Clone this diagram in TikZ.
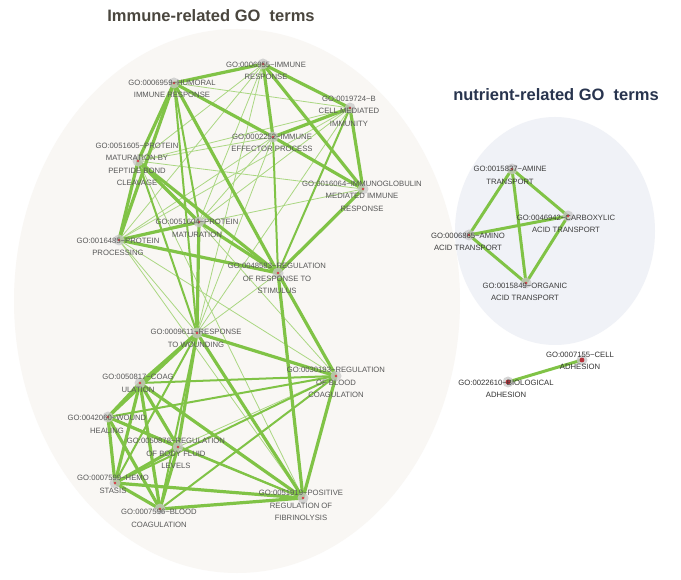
\documentclass[tikz,border=0pt]{standalone}
\usepackage{fontspec}
\setmainfont{Liberation Sans}
\definecolor{edgegreen}{RGB}{128,195,70}
\definecolor{thingreen}{RGB}{170,215,130}
\definecolor{immunebg}{RGB}{249,247,244}
\definecolor{nutrientbg}{RGB}{240,242,247}
\definecolor{lblgray}{RGB}{88,88,88}
\definecolor{lbldark}{RGB}{60,60,60}
\definecolor{titleimm}{RGB}{74,70,62}
\definecolor{titlenut}{RGB}{40,52,78}
\definecolor{dotred}{RGB}{215,60,70}
\tikzset{
  edgeT/.style={draw=edgegreen,line width=3.2pt},
  edgeM/.style={draw=edgegreen,line width=2pt},
  edgeS/.style={draw=thingreen,line width=0.8pt},
  dotn/.style={circle,fill=black!22,fill opacity=0.75,minimum size=11pt,inner sep=0pt},
  lbl/.style={font=\fontsize{7.7}{12.5}\selectfont,text=lblgray,align=center,inner sep=0pt},
  lbld/.style={lbl,text=lbldark},
  ttl/.style={font=\fontsize{16.5}{18}\selectfont\bfseries,inner sep=0pt}
}
\begin{document}
\begin{tikzpicture}[x=1pt,y=-1pt]
\useasboundingbox (0,0) rectangle (681,580);
\fill[white] (0,0) rectangle (681,580);
% background groups
\fill[immunebg] (237,301) ellipse (223 and 272);
\fill[nutrientbg] (555,231) ellipse (100 and 114);
% titles
\node[ttl,text=titleimm] (t1) at (211,16) {Immune-related GO\ \ terms};
\node[ttl,text=titlenut] (t2) at (556,95) {nutrient-related GO\ \ terms};
% positions
\coordinate (IR) at (263,64);
\coordinate (HU) at (174,83);
\coordinate (BC) at (350,108);
\coordinate (IE) at (273,137);
\coordinate (PMa) at (138,161);
\coordinate (IG) at (363,189);
\coordinate (PM) at (199,222);
\coordinate (PP) at (119,240);
\coordinate (RS) at (278,273);
\coordinate (RW) at (197,333);
\coordinate (RBC) at (336,376);
\coordinate (CO) at (140,383);
\coordinate (WH) at (108,417);
\coordinate (BF) at (178,447);
\coordinate (HS) at (115,483);
\coordinate (BCO) at (160,509);
\coordinate (FIB) at (303,498);
\coordinate (AM) at (512,169);
\coordinate (CA) at (568,216);
\coordinate (AA) at (469,235);
\coordinate (OA) at (526,283);
\coordinate (CE) at (582,360);
\coordinate (BA) at (508,382);
% thin edges
\foreach \a/\b in {IR/PMa,IR/PM,IR/PP,IR/RW,HU/BC,BC/PMa,BC/PM,BC/PP,BC/RW,IE/PMa,IE/PP,IE/RW,IE/PM,
  IG/PMa,IG/PP,PP/RW,PP/FIB,PP/RBC,RS/RW,RBC/BF,PMa/FIB,PM/RBC}
  \draw[edgeS] (\a) -- (\b);
% medium edges
\foreach \a/\b in {HU/PM,HU/RW,BC/RS,IE/RS,PMa/RW,RW/HS,RW/BCO,RBC/CO,RBC/WH,RBC/HS,RBC/BCO,WH/FIB,BF/FIB}
  \draw[edgeM] (\a) -- (\b);
% thick edges
\foreach \a/\b in {IR/HU,IR/BC,IR/IE,IR/IG,HU/IE,HU/PMa,HU/PP,HU/RS,BC/IE,BC/IG,IE/IG,IG/RS,
  PMa/PP,PMa/PM,PMa/RS,PM/PP,PM/RS,PM/RW,PP/RS,RS/RBC,RS/FIB,
  RW/RBC,RW/CO,RW/WH,RW/BF,RW/FIB,RBC/FIB,CO/WH,CO/BF,CO/HS,CO/BCO,CO/FIB,
  WH/BF,WH/HS,WH/BCO,BF/HS,BF/BCO,HS/BCO,HS/FIB,BCO/FIB}
  \draw[edgeT] (\a) -- (\b);
% nutrient and adhesion edges
\foreach \a/\b in {AM/CA,AM/AA,AM/OA,AA/CA,AA/OA,CA/OA}
  \draw[edgeM,line width=3pt] (\a) -- (\b);
\draw[edgeM,line width=3pt] (BA) -- (CE);
% dots
\foreach \n in {IR,HU,BC,IE,PMa,IG,PM,PP,RS,RW,RBC,CO,WH,BF,HS,BCO,FIB,AM,CA,AA,OA,CE,BA}{
  \node[dotn] (\n d) at (\n) {};
  \fill[dotred] (\n) circle (1.3pt);
}
\fill[dotred!85!black] (CE) circle (2.4pt);
\fill[dotred!85!black] (BA) circle (2.4pt);
% labels
\node[lbl] (IRl) at (266,71) {GO:0006955\textasciitilde IMMUNE\\RESPONSE};
\node[lbl] (HUl) at (172,89) {GO:0006959\textasciitilde HUMORAL\\IMMUNE RESPONSE};
\node[lbl] (BCl) at (349,111) {GO:0019724\textasciitilde B\\CELL MEDIATED\\IMMUNITY};
\node[lbl] (IEl) at (272,143) {GO:0002252\textasciitilde IMMUNE\\EFFECTOR PROCESS};
\node[lbl] (PMal) at (137,164.5) {GO:0051605\textasciitilde PROTEIN\\MATURATION BY\\PEPTIDE BOND\\CLEAVAGE};
\node[lbl] (IGl) at (362,196) {GO:0016064\textasciitilde IMMUNOGLOBULIN\\MEDIATED IMMUNE\\RESPONSE};
\node[lbl] (PMl) at (197,228.5) {GO:0051604\textasciitilde PROTEIN\\MATURATION};
\node[lbl] (PPl) at (118,247) {GO:0016485\textasciitilde PROTEIN\\PROCESSING};
\node[lbl] (RSl) at (277,278.5) {GO:0048583\textasciitilde REGULATION\\OF RESPONSE TO\\STIMULUS};
\node[lbl] (RWl) at (196,338.5) {GO:0009611\textasciitilde RESPONSE\\TO WOUNDING};
\node[lbl] (RBCl) at (336,382.5) {GO:0030193\textasciitilde REGULATION\\OF BLOOD\\COAGULATION};
\node[lbl] (COl) at (138,383.5) {GO:0050817\textasciitilde COAG\\ULATION};
\node[lbl] (WHl) at (107,424.5) {GO:0042060\textasciitilde WOUND\\HEALING};
\node[lbl] (BFl) at (176,453.5) {GO:0050878\textasciitilde REGULATION\\OF BODY FLUID\\LEVELS};
\node[lbl] (HSl) at (113,484.5) {GO:0007599\textasciitilde HEMO\\STASIS};
\node[lbl] (BCOl) at (159,518.5) {GO:0007596\textasciitilde BLOOD\\COAGULATION};
\node[lbl] (FIBl) at (301,505.5) {GO:0051919\textasciitilde POSITIVE\\REGULATION OF\\FIBRINOLYSIS};
\node[lbld] (AMl) at (510,175.5) {GO:0015837\textasciitilde AMINE\\TRANSPORT};
\node[lbld] (CAl) at (566,224) {GO:0046942\textasciitilde CARBOXYLIC\\ACID TRANSPORT};
\node[lbld] (AAl) at (468,242) {GO:0006865\textasciitilde AMINO\\ACID TRANSPORT};
\node[lbld] (OAl) at (525,292) {GO:0015849\textasciitilde ORGANIC\\ACID TRANSPORT};
\node[lbld,text=black!80] (CEl) at (580,361) {GO:0007155\textasciitilde CELL\\ADHESION};
\node[lbld,text=black!80] (BAl) at (506,389) {GO:0022610\textasciitilde BIOLOGICAL\\ADHESION};
\end{tikzpicture}
\end{document}
